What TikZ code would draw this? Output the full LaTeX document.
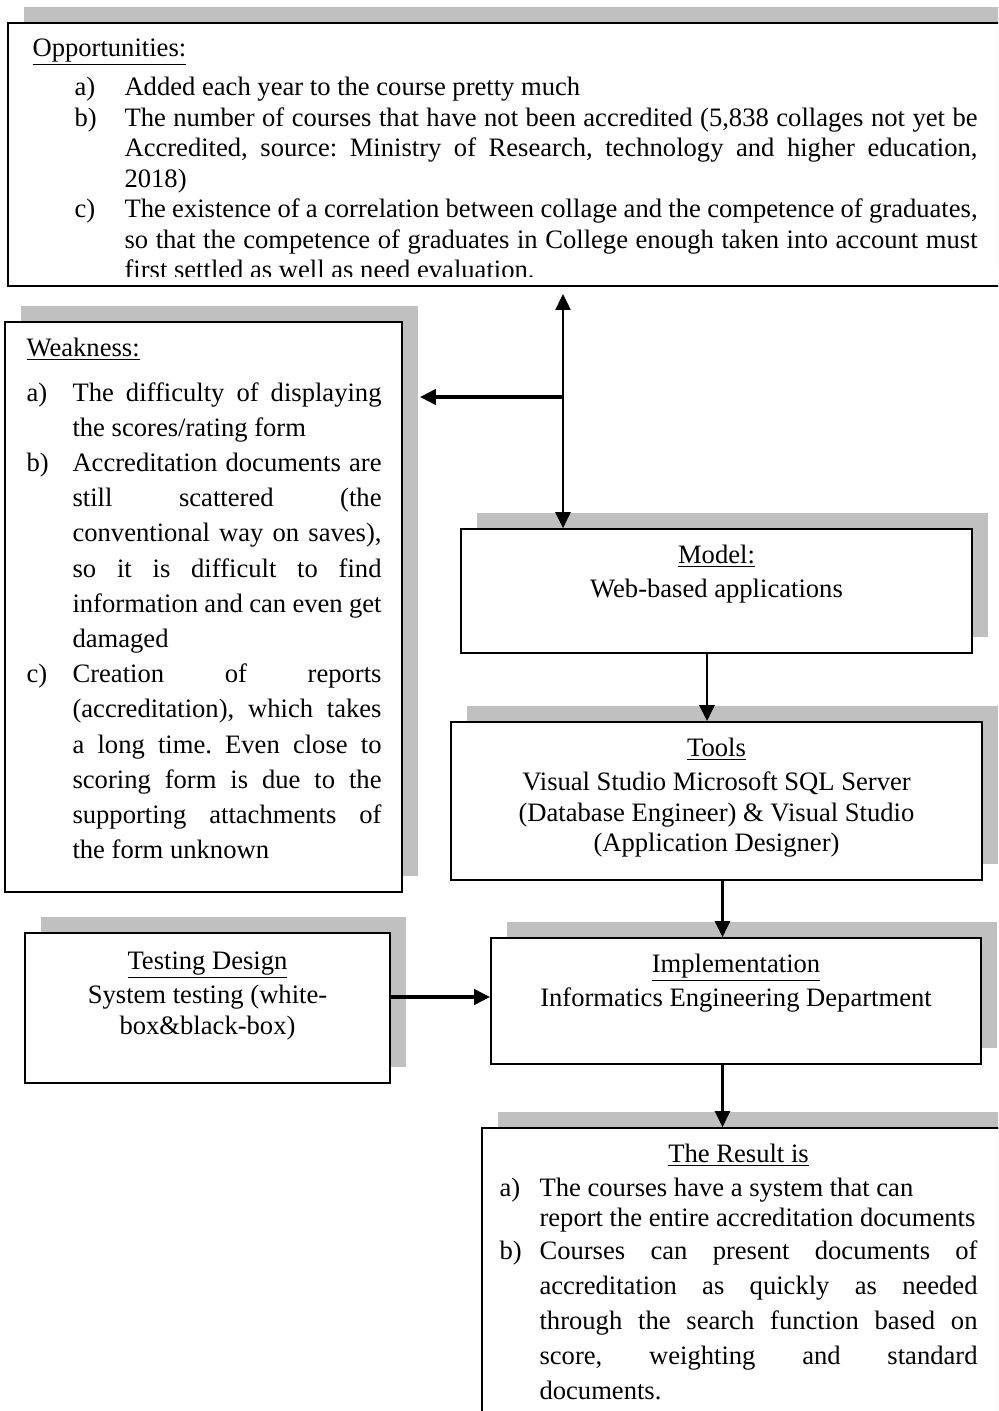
\documentclass[tikz,border=0pt]{standalone}
\usepackage{fontspec}
\setmainfont{Liberation Serif}
\usetikzlibrary{arrows.meta,positioning,shadows}
\definecolor{shadegray}{RGB}{192,192,192}
\tikzstyle{block} = [draw, rectangle, line width=0.85pt, fill=white,
    drop shadow={shadow xshift=8pt, shadow yshift=8pt, fill=shadegray, opacity=1}]
\tikzstyle{txt} = [inner sep=0pt, align=center,
    font=\fontsize{13.3pt}{15.25pt}\selectfont]
\tikzstyle{list} = [inner sep=0pt, align=justify]
\tikzstyle{link} = [->, line width=1.2pt]
\tikzstyle{boldlink} = [->, line width=2pt]
\newlength\itmhang
\newlength\itmlab
\newcommand{\itm}[2]{\par\noindent\hangindent=\itmhang\hangafter=1%
  \makebox[\itmhang][l]{\hspace{\itmlab}#1}#2\par}
\hbadness=10000
\frenchspacing
\begin{document}
\begin{tikzpicture}[x=0.5pt, y=-0.5pt, >={Triangle[length=8pt,width=7.5pt]}]
        \useasboundingbox (0,0) rectangle (998,1411);
        \clip (0,0) rectangle (998,1411);
        % We start by placing the boxes
        \node [block, minimum width=500pt, minimum height=131.5pt] (opp) at (508,154.5) {};
        \node [block, minimum width=255.5pt, minimum height=62pt] (model) at (716.5,591) {};
        \node [block, minimum width=198.5pt, minimum height=285pt,
            left of=model, node distance=256.5pt, yshift=-8pt] (weak) {};
        \node [block, minimum width=265.5pt, minimum height=79pt,
            below of=model, node distance=105pt] (tools) {};
        \node [block, minimum width=245pt, minimum height=63pt,
            below of=tools, node distance=100pt, xshift=9.75pt] (impl) {};
        \node [block, minimum width=182.5pt, minimum height=75pt,
            left of=impl, node distance=264.25pt, yshift=-3.5pt] (test) {};
        \node [block, minimum width=264pt, minimum height=156pt,
            below of=impl, node distance=141.5pt, xshift=5pt] (result) {};

        % Then the texts inside the boxes
        \begin{scope}
            \clip (opp.north west) rectangle ([yshift=5pt]opp.south east);
            \node [list, text width=472.5pt, below right=8pt and 12.5pt of opp.north west,
                font=\fontsize{13.3pt}{15.25pt}\selectfont] (opptext) {%
                \underline{Opportunities:}\par\vspace{4.5pt}%
                \setlength\itmhang{46pt}\setlength\itmlab{21pt}%
                \itm{a)}{Added each year to the course pretty much}
                \itm{b)}{The number of courses that have not been accredited (5,838 collages not yet be\linebreak
                    Accredited, source: Ministry of Research, technology and higher education,\linebreak
                    2018)}
                \itm{c)}{The existence of a correlation between collage and the competence of graduates,\linebreak
                    so that the competence of graduates in College enough taken into account must\linebreak
                    first settled as well as need evaluation.}};
        \end{scope}
        \node [list, text width=177.5pt, below right=8pt and 11pt of weak.north west,
            font=\fontsize{13.3pt}{17.6pt}\selectfont] (weaktext) {%
            \underline{Weakness:}\par\vspace{4.9pt}%
            \setlength\itmhang{23pt}\setlength\itmlab{0pt}%
            \itm{a)}{The difficulty of displaying\linebreak the scores/rating form}
            \itm{b)}{Accreditation documents are\linebreak still scattered (the\linebreak
                conventional way on saves),\linebreak so it is difficult to find\linebreak
                information and can even get\linebreak damaged}
            \itm{c)}{Creation of reports\linebreak (accreditation), which takes\linebreak
                a long time. Even close to\linebreak scoring form is due to the\linebreak
                supporting attachments of\linebreak the form unknown}};
        \node [txt, below=8pt of model.north] (modeltext)
            {\underline{Model:}\\[2pt] Web-based applications};
        \node [txt, below=8pt of tools.north] (toolstext)
            {\underline{Tools}\\[2pt] Visual Studio Microsoft SQL Server\\
            (Database Engineer) \& Visual Studio\\ (Application Designer)};
        \node [txt, below=9.5pt of test.north] (testtext)
            {\underline{Testing Design}\\[2pt] System testing (white-\\ box\&black-box)};
        \node [txt, below=8pt of impl.north] (impltext)
            {\underline{Implementation}\\[2pt] Informatics Engineering Department};
        \node [list, text width=239pt, below right=8pt and 9pt of result.north west,
            font=\fontsize{13.3pt}{15.25pt}\selectfont] (resulttext) {%
            \centerline{\underline{The Result is}}\vspace{1.75pt}%
            \setlength\itmhang{20pt}\setlength\itmlab{0pt}%
            \itm{a)}{The courses have a system that can\newline report the entire accreditation documents}
            \vspace{-1pt}%
            {\fontsize{13.3pt}{17.5pt}\selectfont
            \itm{b)}{Courses can present documents of\linebreak accreditation as quickly as needed\linebreak
                through the search function based on\linebreak score, weighting and standard\linebreak
                documents.}}};

        % Once the boxes are placed, connecting them is easy.
        \coordinate (top) at (563,294);
        \coordinate (split) at (563,397);
        \draw [<->, line width=1.2pt] (top) -- (top |- model.north);
        \draw [boldlink] (split) -- ([xshift=8.5pt]split -| weak.east);
        \draw [link] ([xshift=-4.75pt]model.south) -- ([xshift=-4.75pt]model.south |- tools.north);
        \draw [link] ([xshift=3pt]tools.south) -- ([xshift=3pt]tools.south |- impl.north);
        \draw [boldlink] ([yshift=5.5pt]test.east) -- ([yshift=5.5pt]test.east -| impl.west);
        \draw [link] ([xshift=-6.75pt]impl.south) -- ([xshift=-6.75pt]impl.south |- result.north);
    \end{tikzpicture}
\end{document}
